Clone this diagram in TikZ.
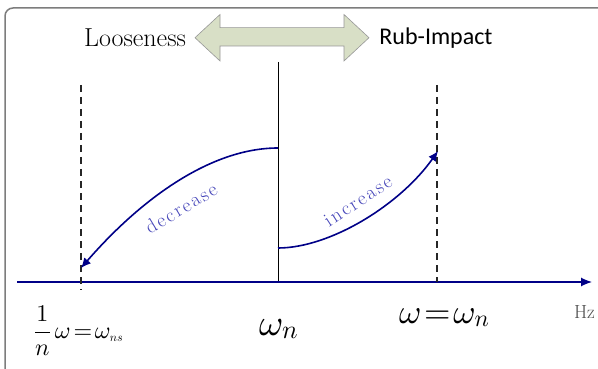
\documentclass[tikz,border=0pt]{standalone}
\usepackage{fontspec}
\DeclareFontShape{OML}{cmm}{m}{it}{<->cmmi10}{}
\DeclareFontShape{OT1}{cmr}{m}{n}{<->cmr10}{}
\newfontfamily\lmr{Latin Modern Roman}
\newfontfamily\calib{Carlito}
\newfontfamily\lmsp[LetterSpace=10]{Latin Modern Roman}
\usetikzlibrary{arrows.meta}
\definecolor{navy}{RGB}{0,0,135}
\definecolor{lblue}{RGB}{70,70,185}
\definecolor{arrfill}{RGB}{216,223,198}
\definecolor{framegray}{RGB}{125,125,125}
\tikzset{
  conn/.style={navy, line width=1.6pt, -{Latex[length=10pt,width=9pt]}},
  dashln/.style={black!85, line width=1.2pt, dash pattern=on 7pt off 5pt},
  lbl/.style={inner sep=0pt, outer sep=0pt},
  curvelbl/.style={inner sep=0pt, text=lblue, font=\lmsp\fontsize{20}{22}\selectfont}
}
\begin{document}
\begin{tikzpicture}[x=1pt,y=-1pt]
\useasboundingbox (0,0) rectangle (598,369);
\begin{scope}
\clip (0,0) rectangle (598,369);
\draw[framegray, line width=1.5pt, rounded corners=8pt] (5,8) rectangle (612,382);
\end{scope}
% double arrow
\draw[fill=arrfill, draw=framegray!80, line width=0.6pt]
  (195,37.7) -- (220,14.5) -- (220,27.7) -- (344,27.7) -- (344,14.5) -- (369,37.7)
  -- (344,61) -- (344,46) -- (220,46) -- (220,61) -- cycle;
\node[lbl, font=\lmr\fontsize{26}{28}\selectfont] (loose) at (135,38) {Looseness};
\node[lbl, font=\calib\fontsize{24}{26}\selectfont] (rub) at (436,38) {Rub-Impact};
% coordinates
\coordinate (top) at (278,62);
\coordinate (orig) at (278,282);
\coordinate (ax0) at (17,282);
\coordinate (ax1) at (592,282);
\coordinate (dl1) at (81,85);
\coordinate (dl2) at (81,290);
\coordinate (dr1) at (437,85);
\coordinate (dr2) at (437,282);
\coordinate (ds) at (278,148);
\coordinate (de) at (81,268);
\coordinate (is) at (278,248);
\coordinate (ie) at (438,151);
% lines
\draw[black, line width=0.9pt] (top) -- (orig);
\draw[navy, line width=1.2pt, -{Latex[length=11pt,width=9pt]}] (ax0) -- (ax1);
\draw[dashln] (dl1) -- (dl2);
\draw[dashln] (dr1) -- (dr2);
% curves
\draw[conn] (ds) .. controls (210,148) and (140,200) .. (de);
\draw[conn] (is) .. controls (330,248) and (400,205) .. (ie);
\node[curvelbl, rotate=31] (dec) at (181,208) {decrease};
\node[curvelbl, rotate=33] (inc) at (358,201) {increase};
% bottom labels
\node[lbl, anchor=base west, font=\fontsize{24}{26}\selectfont] (f1) at (34,338)
  {$\displaystyle\frac{1}{n}\,\omega\mkern2mu{=}\mkern2mu\omega_{\scriptscriptstyle ns}$};
\node[lbl, anchor=base west, font=\fontsize{37}{39}\selectfont] (wn) at (259,335)
  {$\omega_{n}$};
\node[lbl, anchor=base west, font=\fontsize{34}{36}\selectfont] (wr) at (399,323)
  {$\omega\mkern2mu{=}\mkern2mu\omega_{n}$};
\node[lbl, anchor=base west, font=\lmr\fontsize{19}{21}\selectfont, text=black!70] (hz) at (574,318) {Hz};
\end{tikzpicture}
\end{document}
